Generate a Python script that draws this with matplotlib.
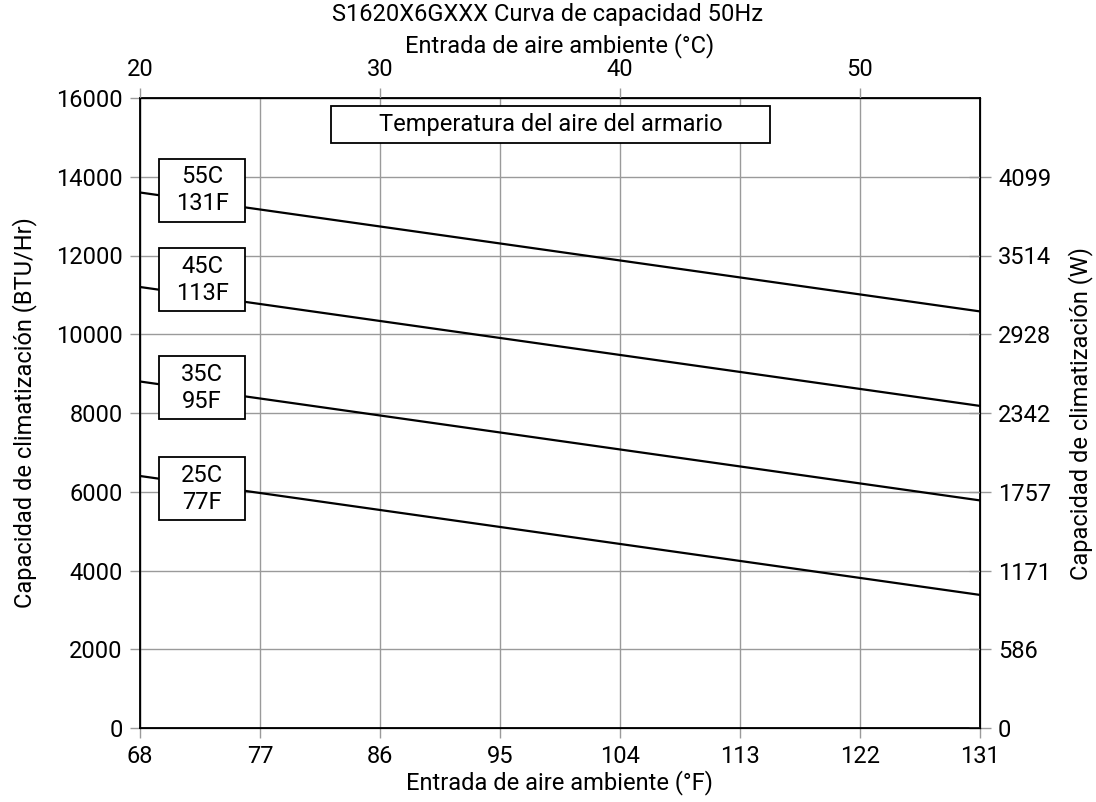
import matplotlib
matplotlib.use('Agg')
import matplotlib.pyplot as plt
from matplotlib.patches import Rectangle

plt.rcParams['font.family'] = ['Roboto', 'DejaVu Sans']

# Data
temp_f = [68, 131]
curves = {
    '55C\n131F': [13600, 10580],
    '45C\n113F': [11200, 8180],
    '35C\n95F': [8800, 5780],
    '25C\n77F': [6400, 3380],
}
label_pos = [13660, 11380, 8640, 6070]
x_ticks_f = [68, 77, 86, 95, 104, 113, 122, 131]
x_ticks_c = [20, 30, 40, 50]
y_ticks = [0, 2000, 4000, 6000, 8000, 10000, 12000, 14000, 16000]
w_ticks = [0, 2000, 4000, 6000, 8000, 10000, 12000, 14000]
w_labels = ['0', '586', '1171', '1757', '2342', '2928', '3514', '4099']

FS = 17
GRID = '#9a9a9a'


def boxed_text(ax, x, y, w, h, s):
    ax.add_patch(Rectangle((x - w / 2, y - h / 2), w, h, fc='white', ec='black',
                           lw=1.3, zorder=4))
    ax.text(x, y, s, ha='center', va='center', fontsize=FS, linespacing=1.2, zorder=5)


fig = plt.figure(figsize=(10.96, 8.02), dpi=100)
ax = fig.add_axes([140 / 1096, 74 / 802, 840 / 1096, 630 / 802])

for (name, vals), ly in zip(curves.items(), label_pos):
    ax.plot(temp_f, vals, color='black', lw=1.6, zorder=3)
    boxed_text(ax, 72.65, ly, 6.5, 1600, name)

boxed_text(ax, 98.8, 15330, 32.9, 940, 'Temperatura del aire del armario')

ax.set_xlim(68, 131)
ax.set_ylim(0, 16000)
ax.set_xticks(x_ticks_f)
ax.set_yticks(y_ticks)
ax.grid(True, color=GRID, lw=1)
ax.tick_params(labelsize=FS, length=7.5, color=GRID, width=1, pad=5)
ax.set_xlabel('Entrada de aire ambiente (°F)', fontsize=FS)
ax.xaxis.set_label_coords(0.5, -0.086)
ax.xaxis.label.set_va('center')
ax.set_ylabel('Capacidad de climatización (BTU/Hr)', fontsize=FS)
ax.yaxis.set_label_coords(-0.137, 0.5)
ax.yaxis.label.set_va('center')
for s in ax.spines.values():
    s.set_color('black')
    s.set_linewidth(1.3)

# right axis (W)
ax_r = ax.twinx()
ax_r.set_ylim(0, 16000)
ax_r.set_yticks(w_ticks)
ax_r.set_yticklabels(w_labels)
ax_r.tick_params(labelsize=FS, length=16, color=GRID, width=1, direction='inout', pad=5)
ax_r.set_ylabel('Capacidad de climatización (W)', fontsize=FS)
ax_r.yaxis.set_label_coords(1.12, 0.5)
ax_r.yaxis.label.set_va('center')

# top axis (°C)
ax_t = ax.twiny()
ax_t.set_xlim((68 - 32) / 1.8, (131 - 32) / 1.8)
ax_t.set_xticks(x_ticks_c)
ax_t.tick_params(labelsize=FS, length=7.5, color=GRID, width=1, pad=5)
ax_t.set_xlabel('Entrada de aire ambiente (°C)', fontsize=FS)
ax_t.xaxis.set_label_coords(0.5, 1.084)
ax_t.xaxis.label.set_va('center')

fig.suptitle('S1620X6GXXX Curva de capacidad 50Hz', fontsize=FS, y=1 - 14 / 802, va='center')

fig.savefig('out.png', dpi=100)
